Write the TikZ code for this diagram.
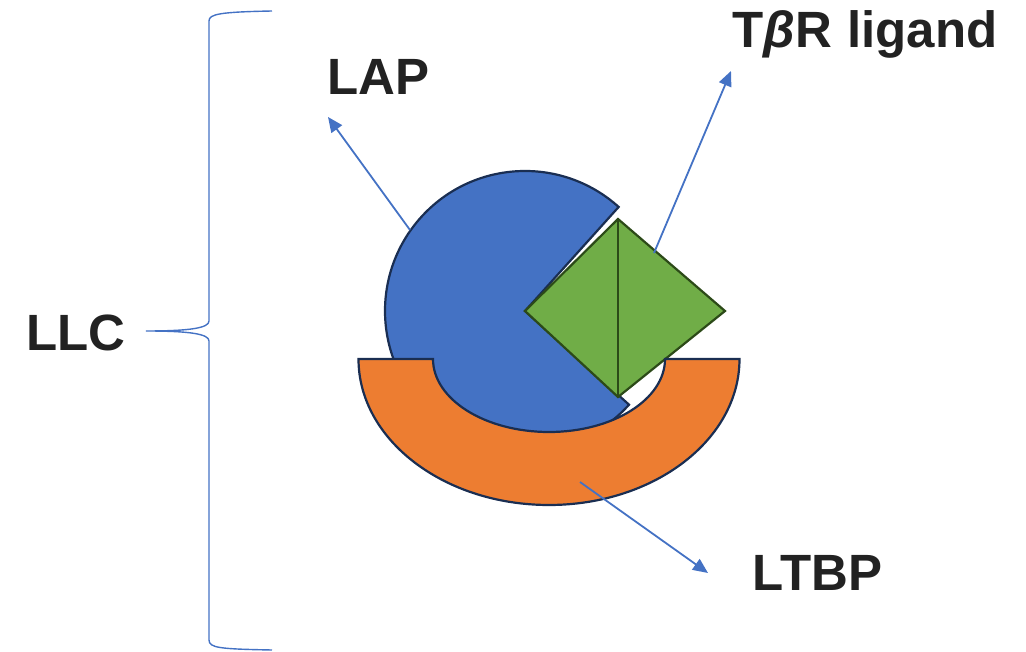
\documentclass[tikz,border=0pt]{standalone}
\usepackage{fontspec}
\setmainfont{Liberation Sans}
\usetikzlibrary{arrows.meta}
\definecolor{lapblue}{HTML}{4472C4}
\definecolor{ltbporange}{HTML}{ED7D31}
\definecolor{ligandgreen}{HTML}{70AD47}
\definecolor{navyline}{HTML}{1A2E52}
\definecolor{greenline}{HTML}{2C4A18}
\definecolor{labelgray}{HTML}{222222}
\tikzset{
  shapeline/.style={line width=2.2pt, line join=miter},
  pointer/.style={draw=lapblue, line width=1.8pt, -{Triangle[length=15pt,width=13pt]}},
  label/.style={font=\fontsize{51}{56}\selectfont\bfseries, text=labelgray, inner sep=0pt},
  bracket/.style={draw=lapblue, line width=1.4pt}
}
\begin{document}
\begin{tikzpicture}[x=1pt,y=1pt]
\useasboundingbox (0,0) rectangle (1026,651);

% LAP: circle with a wedge cut out
\coordinate (lapc) at (525,340);
\filldraw[fill=lapblue, draw=navyline, shapeline]
  (lapc) -- ++(48:140) arc[start angle=48, end angle=318, radius=140pt] -- cycle;

% ligand diamond, split down the middle
\coordinate (dl) at (525,340);
\coordinate (dt) at (618,432);
\coordinate (dr) at (725,340);
\coordinate (db) at (618,254);
\filldraw[fill=ligandgreen, draw=greenline, shapeline] (dl) -- (dt) -- (dr) -- (db) -- cycle;
\draw[greenline, shapeline] (dt) -- (db);

% LTBP: half-elliptical ring cradling the complex
\filldraw[fill=ltbporange, draw=navyline, shapeline]
  (358.5,292) -- (433,292)
  arc[start angle=180, end angle=360, x radius=116pt, y radius=73pt]
  -- (739.5,292)
  arc[start angle=0, end angle=-180, x radius=190.5pt, y radius=146pt]
  -- cycle;

% labels
\node[label, anchor=base] (lap)   at (378.5,556) {LAP};
\node[label, anchor=base] (lig)   at (865,603) {T\textit{β}R\hspace{1pt} ligand};
\node[label, anchor=base] (ltbp)  at (817.5,60) {LTBP};
\node[label, anchor=base] (llc)   at (76,300) {LLC};

% pointers
\coordinate (lapfrom) at (410,421);
\coordinate (lapto)   at (328,534);
\coordinate (ligfrom) at (654,398);
\coordinate (ligto)   at (731,580);
\coordinate (ltbpfrom) at (580,169);
\coordinate (ltbpto)   at (708,78);
\draw[pointer] (lapfrom) -- (lapto);
\draw[pointer] (ligfrom) -- (ligto);
\draw[pointer] (ltbpfrom) -- (ltbpto);

% brace grouping the complex
\coordinate (btip) at (146,320);
\coordinate (btop) at (272,640);
\coordinate (bbot) at (272,1);
\draw[bracket] (btop) .. controls (220,639) and (209,637) .. (209,630)
  -- (209,330) .. controls (209,323) and (190,320) .. (btip)
  .. controls (190,320) and (209,317) .. (209,310)
  -- (209,11) .. controls (209,3) and (220,2) .. (bbot);
\end{tikzpicture}
\end{document}
